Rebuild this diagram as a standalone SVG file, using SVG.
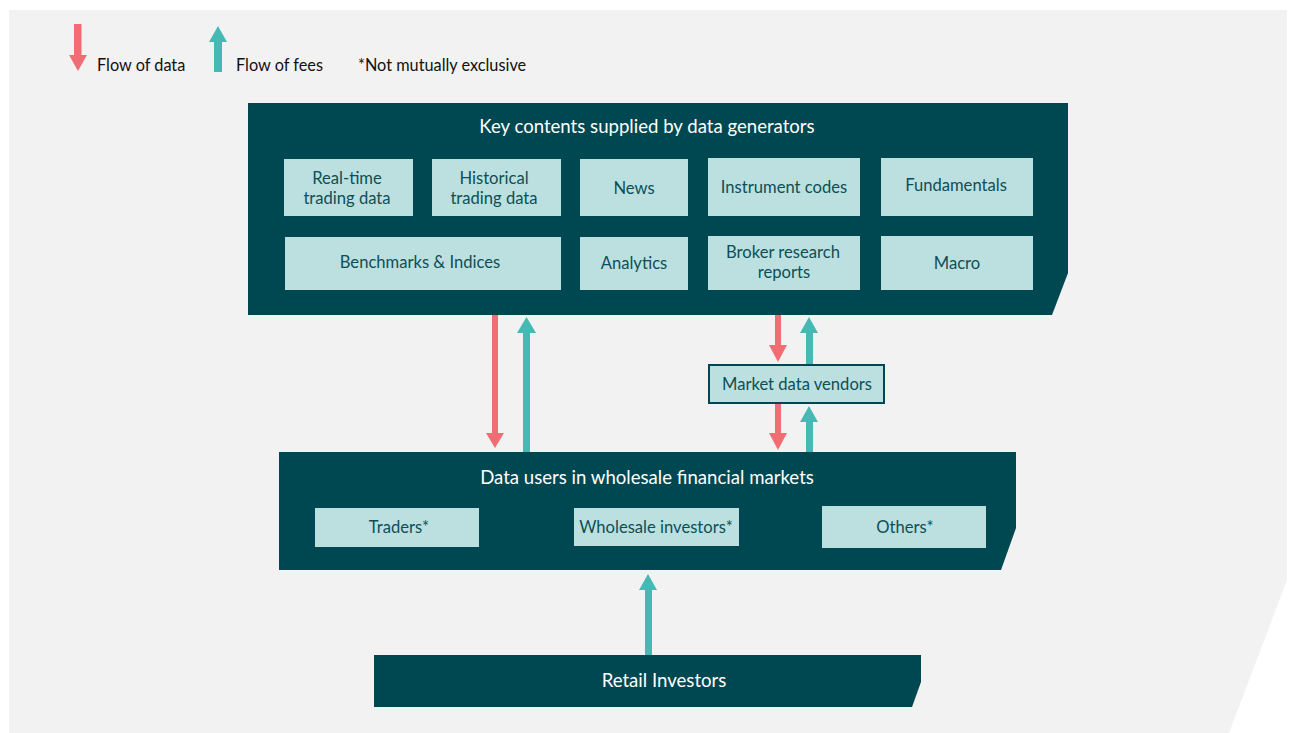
<svg xmlns="http://www.w3.org/2000/svg" width="1293" height="733" viewBox="0 0 1293 733">
<style>
.dark{fill:#004851}
.lite{fill:#bce0e0}
.red{fill:#f06e73}
.teal{fill:#45bab5}
text{font-family:Lato,"Open Sans","Liberation Sans",sans-serif}
.lbl{fill:#0d4f55;font-size:16.6px;text-anchor:middle}
.ttl{fill:#ffffff;font-size:18.6px;text-anchor:middle}
.leg{fill:#111111;font-size:16.3px}
</style>
<rect width="1293" height="733" fill="#ffffff"/>
<polygon points="9,10 1287,10 1287,580 1229,733 9,733" fill="#f2f2f2"/>
<g id="legend">
<rect class="red" x="74" y="24" width="7.5" height="33"/>
<polygon class="red" points="69,55 87,55 78,71"/>
<text class="leg" x="97" y="71">Flow of data</text>
<rect class="teal" x="214" y="40" width="8" height="32"/>
<polygon class="teal" points="209,42 227,42 218,26"/>
<text class="leg" x="236" y="71">Flow of fees</text>
<text class="leg" x="358" y="71">*Not mutually exclusive</text>
</g>
<g id="connectors">
<rect class="red" x="492" y="315" width="6" height="120"/>
<polygon class="red" points="486,433 504,433 495,448"/>
<rect class="teal" x="523" y="331" width="7" height="121"/>
<polygon class="teal" points="517,333 536,333 526.5,317"/>
<rect class="red" x="775" y="315" width="6" height="32"/>
<polygon class="red" points="769,345 787,345 778,362"/>
<rect class="teal" x="806" y="331" width="7" height="33"/>
<polygon class="teal" points="800,333 818,333 809,317"/>
<rect class="red" x="775" y="403" width="6" height="32"/>
<polygon class="red" points="769,433 787,433 778,450"/>
<rect class="teal" x="806" y="420" width="7" height="32"/>
<polygon class="teal" points="800,422 818,422 809,406"/>
<rect class="teal" x="645" y="588" width="7" height="67"/>
<polygon class="teal" points="639,590 657,590 648,574"/>
</g>
<g id="generators">
<polygon class="dark" points="248,103 1068,103 1068,273 1052,315 248,315"/>
<text class="ttl" x="647" y="133">Key contents supplied by data generators</text>
</g>
<g id="realtime"><rect class="lite" x="284" y="159" width="129" height="57"/><text class="lbl" x="347" y="184">Real-time</text><text class="lbl" x="347" y="204">trading data</text></g>
<g id="historical"><rect class="lite" x="432" y="159" width="129" height="57"/><text class="lbl" x="494" y="184">Historical</text><text class="lbl" x="494" y="204">trading data</text></g>
<g id="news"><rect class="lite" x="580" y="159" width="108" height="57"/><text class="lbl" x="634" y="194">News</text></g>
<g id="instrument"><rect class="lite" x="708" y="158" width="152" height="58"/><text class="lbl" x="784" y="193">Instrument codes</text></g>
<g id="fundamentals"><rect class="lite" x="881" y="158" width="152" height="58"/><text class="lbl" x="956" y="191">Fundamentals</text></g>
<g id="benchmarks"><rect class="lite" x="285" y="237" width="276" height="53"/><text class="lbl" x="420" y="268">Benchmarks &amp; Indices</text></g>
<g id="analytics"><rect class="lite" x="580" y="237" width="108" height="53"/><text class="lbl" x="634" y="269">Analytics</text></g>
<g id="broker"><rect class="lite" x="708" y="236" width="152" height="54"/><text class="lbl" x="783" y="258">Broker research</text><text class="lbl" x="784" y="278">reports</text></g>
<g id="macro"><rect class="lite" x="881" y="236" width="152" height="54"/><text class="lbl" x="957" y="269">Macro</text></g>
<g id="vendors"><rect class="lite" x="709" y="365" width="175" height="38" stroke="#004851" stroke-width="2"/><text class="lbl" x="797" y="390">Market data vendors</text></g>
<g id="users">
<polygon class="dark" points="279,452 1016,452 1016,528 1001,570 279,570"/>
<text class="ttl" x="647" y="484">Data users in wholesale financial markets</text>
</g>
<g id="traders"><rect class="lite" x="315" y="508" width="164" height="39"/><text class="lbl" x="399" y="533">Traders*</text></g>
<g id="wholesale"><rect class="lite" x="574" y="508" width="165" height="38"/><text class="lbl" x="656" y="533">Wholesale investors*</text></g>
<g id="others"><rect class="lite" x="822" y="506" width="164" height="42"/><text class="lbl" x="905" y="533">Others*</text></g>
<g id="retail">
<polygon class="dark" points="374,655 921,655 921,682 912,707 374,707"/>
<text class="ttl" x="664" y="687">Retail Investors</text>
</g>
</svg>
